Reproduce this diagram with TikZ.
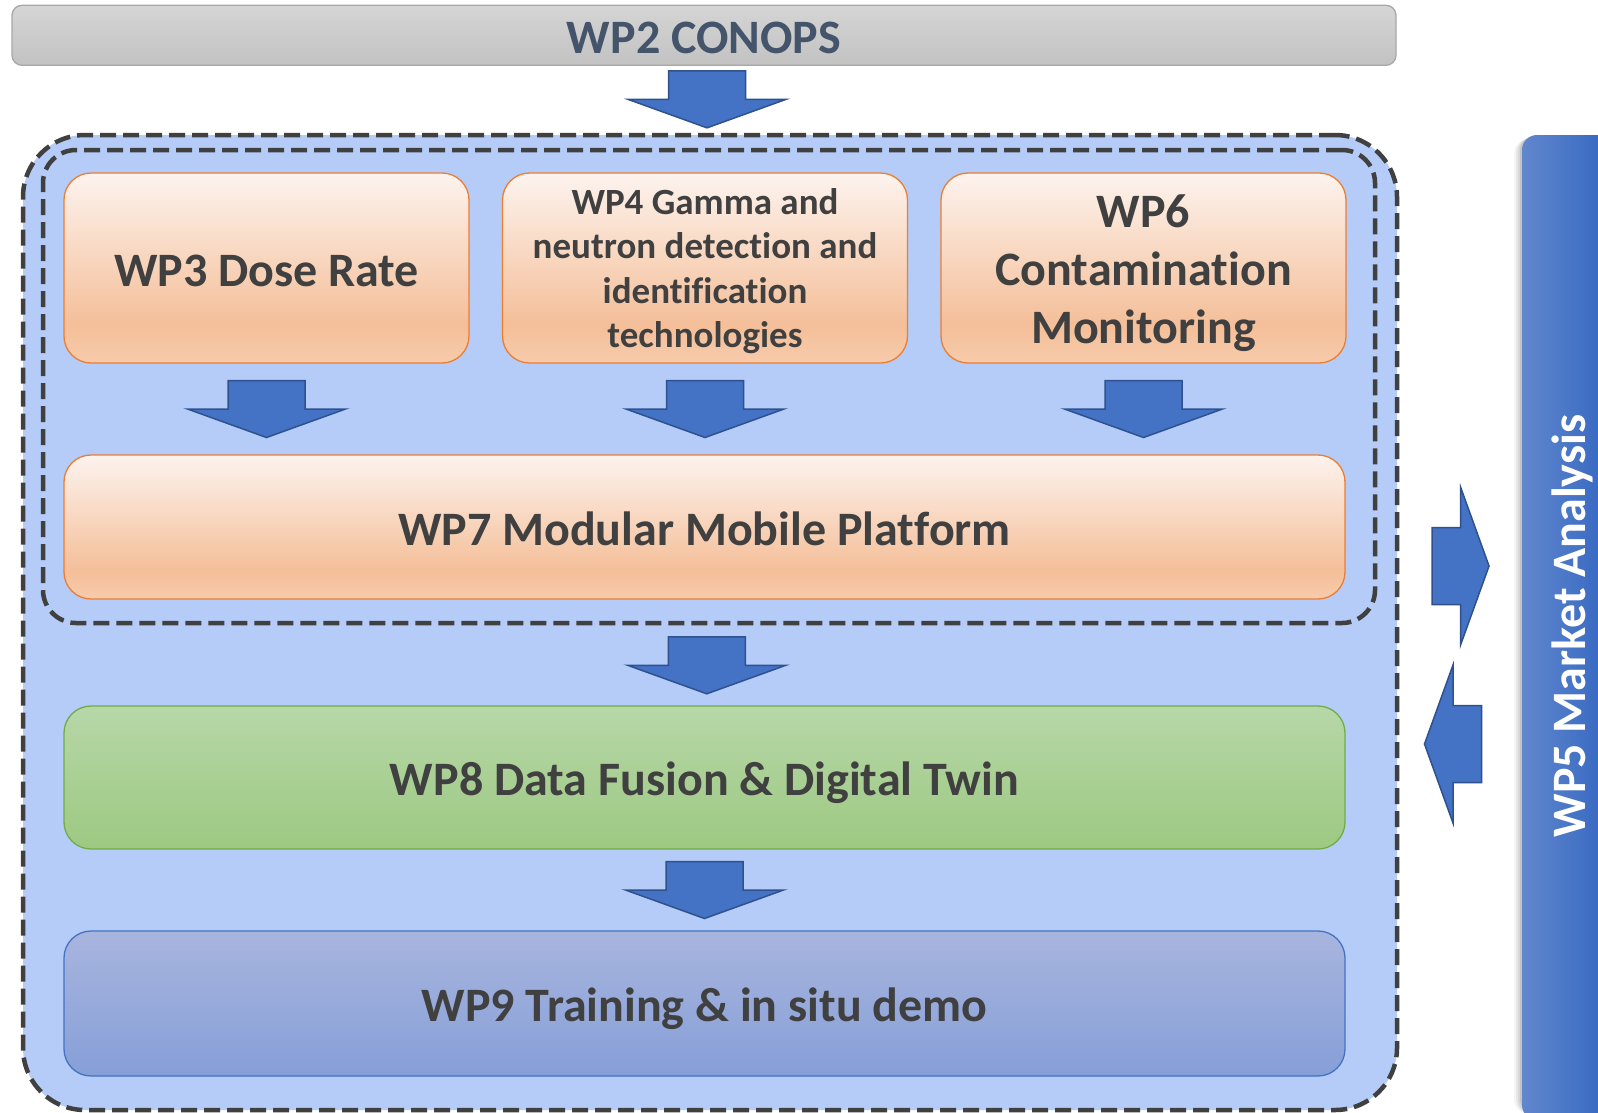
\documentclass[tikz,border=0pt]{standalone}
\usepackage{fontspec}
\setmainfont{Carlito}[Ligatures=NoCommon]
\usetikzlibrary{calc}
\definecolor{blueBg}{RGB}{180,204,247}
\definecolor{dashC}{RGB}{64,64,64}
\definecolor{arrF}{RGB}{68,114,196}
\definecolor{arrD}{RGB}{47,82,143}
\definecolor{txt}{RGB}{64,64,64}
\definecolor{wptxt}{RGB}{68,84,106}
\definecolor{orT}{RGB}{253,243,238}
\definecolor{orM}{RGB}{244,191,153}
\definecolor{orB}{RGB}{247,203,172}
\definecolor{orBorder}{RGB}{237,125,49}
\definecolor{grT}{RGB}{183,215,168}
\definecolor{grB}{RGB}{157,201,130}
\definecolor{grBorder}{RGB}{112,173,71}
\definecolor{blT}{RGB}{168,181,222}
\definecolor{blB}{RGB}{134,159,216}
\definecolor{blBorder}{RGB}{68,114,196}
\definecolor{gyT}{RGB}{213,213,213}
\definecolor{gyB}{RGB}{194,194,194}
\definecolor{gyBorder}{RGB}{168,168,168}
\definecolor{barL}{RGB}{97,135,206}
\definecolor{barR}{RGB}{47,99,191}
\pgfdeclareverticalshading{orgrad}{100bp}{color(0bp)=(orB); color(25bp)=(orB); color(35bp)=(orM); color(75bp)=(orT); color(100bp)=(orT)}
\pgfdeclareverticalshading{grgrad}{100bp}{color(0bp)=(grB); color(25bp)=(grB); color(75bp)=(grT); color(100bp)=(grT)}
\pgfdeclareverticalshading{blgrad}{100bp}{color(0bp)=(blB); color(25bp)=(blB); color(75bp)=(blT); color(100bp)=(blT)}
\pgfdeclareverticalshading{gygrad}{100bp}{color(0bp)=(gyB); color(25bp)=(gyB); color(75bp)=(gyT); color(100bp)=(gyT)}
\begin{document}
\begin{tikzpicture}[x=1pt,y=-1pt,
  wpbox/.style={draw, line width=1.3pt, rounded corners=27pt, inner sep=0pt,
    text=txt, align=center},
  orbox/.style={wpbox, draw=orBorder, shading=orgrad},
  grbox/.style={wpbox, draw=grBorder, shading=grgrad},
  blbox/.style={wpbox, draw=blBorder, shading=blgrad},
  bigfont/.style={font=\bfseries\fontsize{48}{58}\selectfont},
  oneline/.style={bigfont, text height=47pt, text depth=11pt},
  smallfont/.style={font=\bfseries\fontsize{37}{44.5}\selectfont},
  dashbox/.style={draw=dashC, line width=4.5pt, dash pattern=on 16pt off 7pt, inner sep=0pt},
  blockarrow/.pic={\draw[fill=arrF, draw=arrD, line width=1.5pt, line join=miter]
     (-38.5,-28.5) -- (38.5,-28.5) -- (38.5,0) -- (79,0) -- (0,28.5) -- (-79,0) -- (-38.5,0) -- cycle;}
]
\useasboundingbox (0,0) rectangle (1598,1112);
\fill[white] (0,0) rectangle (1598,1112);

% top bar
\node[draw=gyBorder, line width=1.3pt, rounded corners=10pt, shading=gygrad, inner sep=0pt,
  minimum width=1384pt, minimum height=60pt, text=wptxt, oneline]
  (wp2) at (704,35.3) {WP2 CONOPS};

% outer and inner dashed regions
\node[dashbox, fill=blueBg, rounded corners=62pt, minimum width=1374pt, minimum height=975pt]
  (outer) at (710,622.5) {};
\node[dashbox, rounded corners=33pt, minimum width=1332pt, minimum height=473pt]
  (inner) at (709,386.5) {};

% work package boxes
\node[orbox, oneline, minimum width=405pt, minimum height=190pt] (wp3) at (266.5,268) {WP3 Dose Rate};
\node[orbox, smallfont, text height=169pt, text depth=10pt, minimum width=405pt, minimum height=190pt] (wp4) at (705,268) {WP4 Gamma and\\neutron detection and\\identification\\technologies};
\node[orbox, bigfont, text height=162pt, text depth=12pt, minimum width=405pt, minimum height=190pt] (wp6) at (1143.5,268) {WP6\\Contamination\\Monitoring};
\node[orbox, oneline, minimum width=1281pt, minimum height=144pt] (wp7) at (704.5,527) {WP7 Modular Mobile Platform};
\node[grbox, oneline, minimum width=1281pt, minimum height=143pt] (wp8) at (704.5,777.5) {WP8 Data Fusion \& Digital Twin};
\node[blbox, oneline, minimum width=1281pt, minimum height=145pt] (wp9) at (704.5,1003.5) {WP9 Training \& in situ demo};

% WP5 bar with shadow
\foreach \d/\o in {8/0.04,6/0.05,4/0.07,2/0.09}
  \fill[black, opacity=\o, rounded corners=15pt] (1522-\d,135+\d/2) rectangle (1620,1114);
\node[left color=barL, right color=barR, rounded corners=15pt, inner sep=0pt,
  minimum width=98pt, minimum height=985pt] (wp5) at (1571,627.5) {};
\node[rotate=90, anchor=base, text=white, font=\bfseries\fontsize{48}{56}\selectfont]
  (wp5lbl) at (1585,626) {WP5 Market Analysis};

% block arrows
\pic (a0) at ($(wp2.south)!0.5!(outer.north)$) {blockarrow};
\pic (a3) at ($(wp3.south)!0.5!(wp7.north -| wp3.south)$) {blockarrow};
\pic (a4) at ($(wp4.south)!0.5!(wp7.north -| wp4.south)$) {blockarrow};
\pic (a6) at ($(wp6.south)!0.5!(wp7.north -| wp6.south)$) {blockarrow};
\pic (a7) at ($(inner.south)!0.5!(wp8.north)$) {blockarrow};
\pic (a8) at ($(wp8.south)!0.5!(wp9.north)$) {blockarrow};
\coordinate (rA) at (1459.5,566);
\coordinate (lA) at (1453,744);
\pic[rotate=90] (ar) at ($(outer.east |- rA)!0.5!(wp5.west |- rA)$) {blockarrow};
\pic[rotate=-90] (al) at (lA) {blockarrow};
\end{tikzpicture}
\end{document}
